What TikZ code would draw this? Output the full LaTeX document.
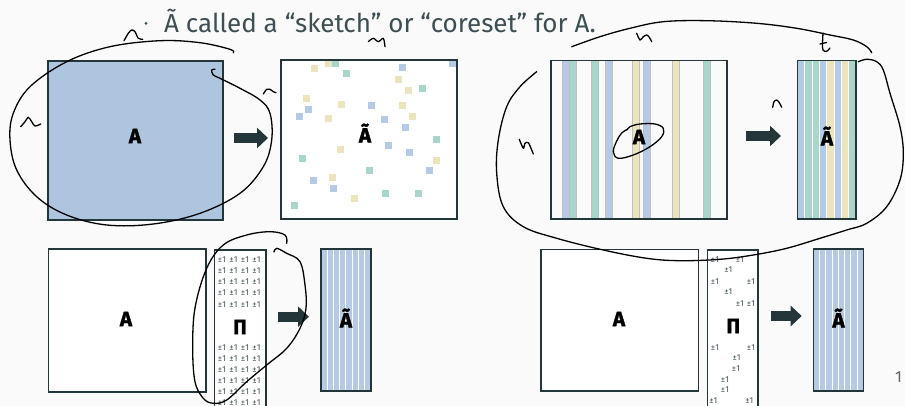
\documentclass[tikz,border=0pt]{standalone}
\usepackage{fontspec}
\setmainfont{Fira Sans}
\usetikzlibrary{arrows.meta}
\definecolor{bg}{HTML}{FAFAFA}
\definecolor{dk}{HTML}{23373B}
\definecolor{sb}{HTML}{B5CAE5}
\definecolor{sg}{HTML}{A9D6CA}
\definecolor{sy}{HTML}{ECE4BC}
\definecolor{fillA}{HTML}{AEC5E0}
\definecolor{txt}{HTML}{3E4F53}
\begin{document}
\begin{tikzpicture}[x=1pt,y=-1pt,
  box/.style={draw=dk, line width=1.6pt, inner sep=0pt, outer sep=0pt},
  lbl/.style={font=\bfseries\addfontfeatures{FakeBold=1.6}\fontsize{20.5}{20.5}\selectfont, text=black, inner sep=0pt},
  pm/.style={font=\fontsize{8.6}{8.6}\selectfont, text=dk!85, inner sep=0pt},
  blockarrow/.style={line width=10pt, draw=dk, -{Triangle[length=11pt,width=20pt]}},
  pen/.style={draw=black, line width=1.3pt, line cap=round, line join=round},
  stripe/.style={draw=black!25, line width=0.4pt}
]
\useasboundingbox (0,0) rectangle (905,406);
\fill[bg] (0,0) rectangle (905,406);
\clip (0,0) rectangle (905,406);

% ---------- top text ----------
\fill[txt] (146,23.3) circle (1.5);
\node[anchor=base west, font=\fontsize{26}{26}\selectfont, text=txt, inner sep=0pt] (t1) at (164,32.3)
  {Ã called a “sketch” or “coreset” for A.};

% ---------- top left ----------
\node[box, fill=fillA, minimum width=175pt, minimum height=159pt] (A1) at (135.5,140.3) {};
\node[lbl] (A1l) at (135,136) {A};
\node[box, fill=white, minimum width=176pt, minimum height=159pt] (S1) at (369,139.5) {};
\foreach \x/\y in {314.3/69,328/64,398/80,408.7/90.7,306.3/98.3,341.7/104.7,402/106,412.7/117,328.3/118.3,340/149.3,436.7/161,332/178,354/198.3}
  \fill[sy] (\x-3.5,\y-3.5) rectangle (\x+3.5,\y+3.5);
\foreach \x/\y in {335.3/64,346.3/74,422/89,436/140,302.3/158.7,369/171,385/194,418.7/194,294/206}
  \fill[sg] (\x-3.5,\y-3.5) rectangle (\x+3.5,\y+3.5);
\foreach \x/\y in {402/67.3,452.3/64,371.7/105.7,308/109.3,299/116.7,384.3/120,405/127.7,388/146,409/153,429.3/171,313/181,333.3/188.7}
  \fill[sb] (\x-3.5,\y-3.5) rectangle (\x+3.5,\y+3.5);
\draw[box, fill=none] (S1.north west) rectangle (S1.south east);
\node[lbl] (S1l) at (365,133) {Ã};
\coordinate (a1s) at (234,138);
\coordinate (a1e) at (268,138);
\draw[blockarrow] (a1s) -- (a1e);

% ---------- top right ----------
\foreach \x/\c in {562.3/sb,569.3/sg,590.7/sg,605/sb,631.7/sy,643.3/sb,672.3/sy,702.7/sg}
  \filldraw[fill=\c, stripe] (\x,60.7) rectangle (\x+7,219.3);
\node[box, minimum width=176pt, minimum height=158.6pt] (A2) at (638.7,140) {};
\node[lbl] (A2l) at (639,137) {A};
\foreach \c [count=\i from 0] in {sb,sg,sg,sb,sy,sb,sy,sg}
  \fill[\c] (797.3+\i*7.34,60.7) rectangle (797.3+\i*7.34+7.34,219.3);
\foreach \i in {1,...,7}
  \draw[white, line width=0.8pt] (797.3+\i*7.34,60.7) -- (797.3+\i*7.34,219.3);
\node[box, minimum width=58.7pt, minimum height=158.6pt] (T2) at (826.7,140) {};
\node[lbl] (T2l) at (827,136) {Ã};
\coordinate (a2s) at (746,136);
\coordinate (a2e) at (781,136);
\draw[blockarrow] (a2s) -- (a2e);

% ---------- bottom left ----------
\node[box, fill=white, minimum width=157.4pt, minimum height=142.4pt] (A3) at (127,320.5) {};
\node[lbl] (A3l) at (126,319) {A};
\node[box, fill=white, minimum width=51.4pt, minimum height=180pt] (P3) at (240,340) {};
\node[lbl] (P3l) at (240,327) {Π};
\foreach \y [count=\j] in {259.3,270.7,281.7,292.3,304.3,347.3,358.3,369.7,380.3,391.3,402.3}
  \foreach \x [count=\i] in {222,233.5,245,256.5}
    \node[pm] (pa\j-\i) at (\x,\y) {±1};
\fill[fillA!90!white] (320.7,249) rectangle (370.7,391);
\foreach \i in {1,...,7}
  \draw[white, line width=0.8pt] (320.7+\i*6.25,249) -- (320.7+\i*6.25,391);
\node[box, minimum width=50pt, minimum height=142pt] (T3) at (345.7,320) {};
\node[lbl] (T3l) at (346,318) {Ã};
\coordinate (a3s) at (277.5,316.7);
\coordinate (a3e) at (309,316.7);
\draw[blockarrow] (a3s) -- (a3e);

% ---------- bottom right ----------
\node[box, fill=white, minimum width=157.6pt, minimum height=141.7pt] (A4) at (619.5,320.2) {};
\node[lbl] (A4l) at (619,319) {A};
\node[box, fill=white, minimum width=50.4pt, minimum height=180pt] (P4) at (732.5,340) {};
\node[lbl] (P4l) at (733.3,326) {Π};
\foreach \x/\y [count=\k] in {715/259.3,740/259.3,728.3/270,715/281.7,751/281.7,728.3/292,740/303.3,751/303.3,715/347.3,751/347.3,736.7/357.7,736/368.3,725/380,725/390,713.3/400.7,749.3/400.7}
  \node[pm] (pb\k) at (\x,\y) {±1};
\fill[fillA!90!white] (813.3,249) rectangle (863.3,391);
\foreach \i in {1,...,7}
  \draw[white, line width=0.8pt] (813.3+\i*6.25,249) -- (813.3+\i*6.25,391);
\node[box, minimum width=50pt, minimum height=142pt] (T4) at (838.3,320) {};
\node[lbl] (T4l) at (838.5,318) {Ã};
\coordinate (a4s) at (770.7,316);
\coordinate (a4e) at (801.7,316);
\draw[blockarrow] (a4s) -- (a4e);

\node[anchor=base west, font=\fontsize{16}{16}\selectfont, text=txt!85, inner sep=0pt] (pg) at (895,382) {1};

% ---------- handwritten ink ----------
\draw[pen] plot[smooth, tension=0.6] coordinates {(233.3,52.7) (230,49.3) (200,42.7) (160,40.7) (110,46.7) (66.7,61.7) (30,86.7) (13.3,113.3) (10,140) (16.7,170) (36.7,196.7) (66.7,215) (106.7,225) (153.3,224) (200,213.3) (240,193.3) (263.3,166.7) (271.7,140) (270,113.3) (260,100) (240,88.3) (220,78.3) (213.3,75) (211.7,70) (215,69.3)};
\draw[pen] plot[smooth, tension=0.5] coordinates {(124,40.7) (128.3,33.3) (131.7,30) (135,31.7) (138.3,38.3) (142.7,39.3)};
\draw[pen] plot[smooth, tension=0.5] coordinates {(20.7,126.7) (25,121.7) (28.3,117.3) (31.7,121.7) (35,126) (40.7,124)};
\draw[pen] plot[smooth, tension=0.5] coordinates {(263.3,94) (266.7,89.3) (270,89.3) (273.3,91.7) (276,92.7)};
\draw[pen] plot[smooth, tension=0.5] coordinates {(368.3,41.7) (373.3,38.3) (378.3,41.7) (383.3,38.3) (385,46.7)};
\draw[pen] plot[smooth, tension=0.6] coordinates {(571.7,46.7) (600,36.7) (630,28.3) (663.3,21.7) (706.7,20.7) (756.7,23.3) (796.7,28.3) (830,35) (853.3,40) (866.7,46.7) (871.7,52.7)};
\draw[pen] plot[smooth, tension=0.6] coordinates {(536.7,71.7) (520,86.7) (506.7,106.7) (498.3,140) (496.7,173.3) (503.3,206.7) (523.3,226.7) (556.7,238.3) (603.3,250) (646.7,258.3) (680,260.7) (720,259.3) (753.3,255) (786.7,248.3) (820,238.3) (846.7,230) (866.7,223.3) (886.7,206.7) (900,180) (903.3,153.3) (900,126.7) (890,93.3) (883.3,70) (876.7,61.7) (866.7,59.3) (858.3,61.7)};
\draw[pen] plot[smooth, tension=0.5] coordinates {(636.7,33.3) (640,40) (643.3,36.7) (646.7,35) (649.3,37.3) (651.7,41.7)};
\draw[pen] plot[smooth, tension=0.5] coordinates {(519.3,139.3) (523.3,148.3) (525,143.3) (528.3,142.7) (531.7,150) (533.3,154)};
\draw[pen] plot[smooth, tension=0.5] coordinates {(823,33) (822.5,44) (823,50) (826.5,51.5) (830,48)};
\draw[pen] (820,44) -- (826.5,42.5);
\draw[pen] plot[smooth, tension=0.5] coordinates {(772.7,107.3) (774,101.7) (776.7,100) (779.3,102.7) (781.7,107.3)};
\draw[pen] plot[smooth, tension=0.6] coordinates {(626.7,129.7) (621.7,133) (616.7,141) (613.3,151.7) (618.3,158.3) (633.3,155) (650,146.7) (661.7,136.7) (663.3,128.3) (655,124) (640,124) (630,126.7) (627,130)};
\draw[pen] plot[smooth, tension=0.6] coordinates {(286.7,243.3) (285,235) (270,231.7) (246.7,235) (223.3,245) (206.7,268.3) (195,308) (192.7,348) (195,381.7) (203.3,398.3) (213.3,403.3) (226.7,400) (246.7,381.7) (266.7,365) (286.7,348.3) (300,328.3) (306,308.3) (305,285) (300,261.7) (286.7,253.3) (276.7,248.3) (274,252)};
\end{tikzpicture}
\end{document}
